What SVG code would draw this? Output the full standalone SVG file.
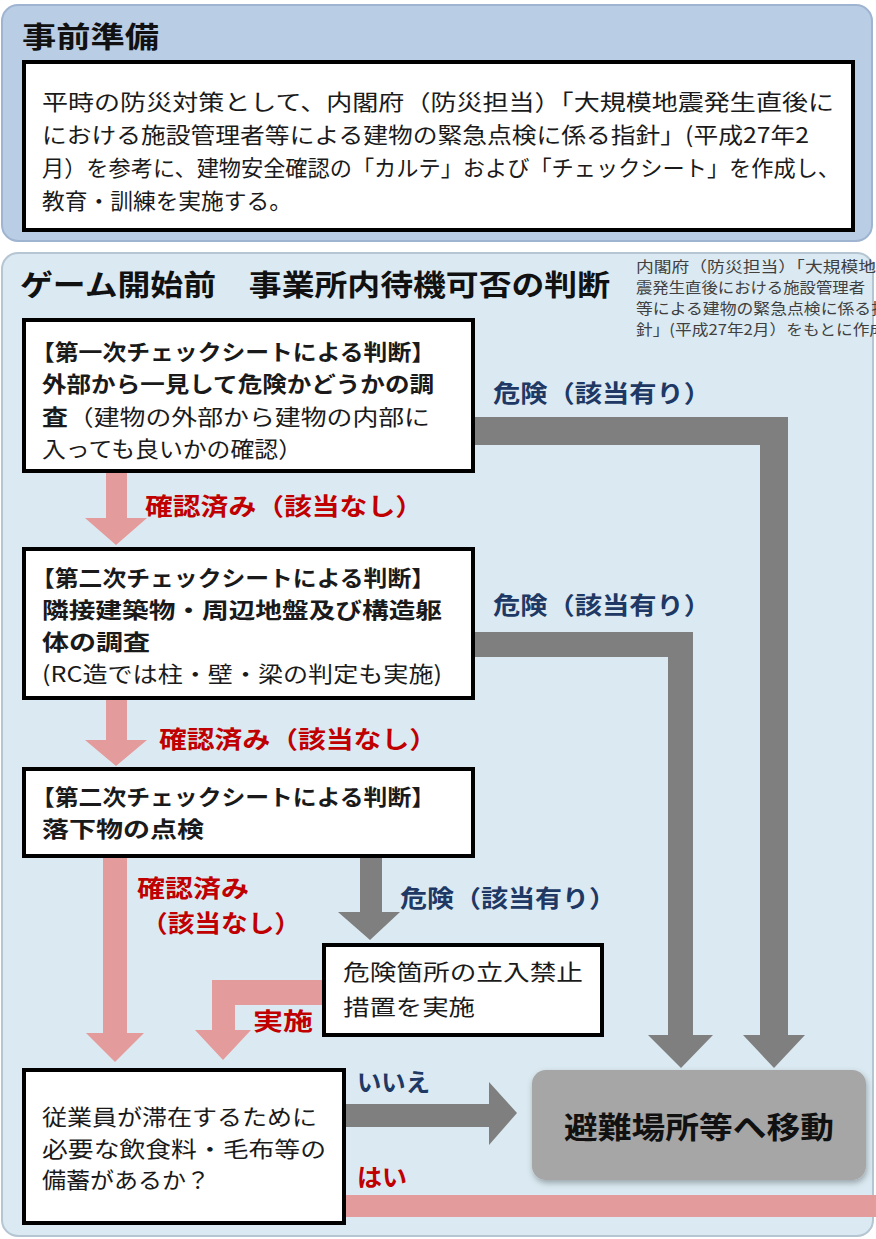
<svg xmlns="http://www.w3.org/2000/svg" width="876" height="1239" viewBox="0 0 876 1239">
<defs>
<style>
text { font-family: "Noto Sans CJK JP", "Noto Sans", sans-serif; }
.b { font-weight: bold; }
.box { fill: #ffffff; stroke: #000000; stroke-width: 4; }
.tx { fill: #1a1a1a; font-size: 22px; }
.gray { fill: #7f7f7f; }
.pink { fill: #e49b9b; }
.red { fill: #c00000; font-weight: bold; font-size: 24px; }
.blue { fill: #203864; font-weight: bold; font-size: 24px; }
.note { fill: #404040; font-size: 15px; }
</style>
<filter id="sh" x="-10%" y="-10%" width="120%" height="130%">
<feDropShadow dx="1" dy="3" stdDeviation="3" flood-color="#000" flood-opacity="0.3"/>
</filter>
</defs>
<rect width="876" height="1239" fill="#ffffff"/>

<g id="panel-top">
<rect x="2" y="5" width="870" height="236" rx="16" fill="#b9cde5" stroke="#9fb4d0" stroke-width="2"/>
<text x="22" y="48" class="b" font-size="29" fill="#111" textLength="137" lengthAdjust="spacingAndGlyphs">事前準備</text>
</g>
<g id="node-prep">
<rect x="24" y="62" width="829" height="168" class="box"/>
<text class="tx" font-size="24" x="42" y="110" textLength="792" lengthAdjust="spacingAndGlyphs">平時の防災対策として、内閣府（防災担当）「大規模地震発生直後に</text>
<text class="tx" font-size="24" x="42" y="143" textLength="767" lengthAdjust="spacingAndGlyphs">における施設管理者等による建物の緊急点検に係る指針」(平成27年2</text>
<text class="tx" font-size="24" x="42" y="176" textLength="798" lengthAdjust="spacingAndGlyphs">月）を参考に、建物安全確認の「カルテ」および「チェックシート」を作成し、</text>
<text class="tx" font-size="24" x="42" y="209" textLength="250" lengthAdjust="spacingAndGlyphs">教育・訓練を実施する。</text>
</g>

<g id="panel-bottom">
<rect x="2" y="253" width="871" height="983" rx="16" fill="#dbeaf2" stroke="#b5c6d2" stroke-width="2"/>
<text x="20" y="296" class="b" font-size="29" fill="#111" textLength="590" lengthAdjust="spacingAndGlyphs">ゲーム開始前　事業所内待機可否の判断</text>
<text class="note" x="636" y="272" textLength="240" lengthAdjust="spacingAndGlyphs">内閣府（防災担当）「大規模地</text>
<text class="note" x="636" y="293" textLength="229" lengthAdjust="spacingAndGlyphs">震発生直後における施設管理者</text>
<text class="note" x="636" y="314" textLength="252" lengthAdjust="spacingAndGlyphs">等による建物の緊急点検に係る指</text>
<text class="note" x="636" y="335" textLength="250" lengthAdjust="spacingAndGlyphs">針」(平成27年2月）をもとに作成</text>
</g>

<g id="connectors">
<polygon class="gray" points="473,417 788,417 788,1035 805,1035 774,1068 743,1035 760,1035 760,445 473,445"/>
<polygon class="gray" points="473,632 693,632 693,1035 713,1035 681,1068 648,1035 668,1035 668,657 473,657"/>
<polygon class="gray" points="360,856 382,856 382,912 400,912 370,940 338,912 360,912"/>
<polygon class="pink" points="106,473 127,473 127,518 147,518 116,545 85,518 106,518"/>
<polygon class="pink" points="106,700 127,700 127,740 147,740 116,766 85,740 106,740"/>
<polygon class="pink" points="103,858 127,858 127,1033 144,1033 115,1062 86,1033 103,1033"/>
<polygon class="pink" points="322,980 212,980 212,1030 195,1030 223,1060 251,1030 235,1030 235,1005 322,1005"/>
<polygon class="gray" points="346,1104 489,1104 489,1082 517,1113 489,1145 489,1127 346,1127"/>
<rect class="pink" x="346" y="1195" width="530" height="22"/>
<text class="blue" x="493" y="402" textLength="218" lengthAdjust="spacingAndGlyphs">危険（該当有り）</text>
<text class="blue" x="493" y="614" textLength="218" lengthAdjust="spacingAndGlyphs">危険（該当有り）</text>
<text class="blue" x="400" y="907" textLength="216" lengthAdjust="spacingAndGlyphs">危険（該当有り）</text>
<text class="red" x="145" y="515" textLength="278" lengthAdjust="spacingAndGlyphs">確認済み（該当なし）</text>
<text class="red" x="159" y="748" textLength="278" lengthAdjust="spacingAndGlyphs">確認済み（該当なし）</text>
<text class="red" x="137" y="897" textLength="112" lengthAdjust="spacingAndGlyphs">確認済み</text>
<text class="red" x="141" y="932" textLength="160" lengthAdjust="spacingAndGlyphs">（該当なし）</text>
<text class="red" x="253" y="1030" textLength="60" lengthAdjust="spacingAndGlyphs">実施</text>
<text class="blue" x="357" y="1091" textLength="73" lengthAdjust="spacingAndGlyphs">いいえ</text>
<text class="red" x="357" y="1186" textLength="50" lengthAdjust="spacingAndGlyphs">はい</text>
</g>

<g id="node-check1">
<rect x="24" y="320" width="449" height="151" class="box"/>
<text class="tx b" x="31" y="360" textLength="404" lengthAdjust="spacingAndGlyphs">【第一次チェックシートによる判断】</text>
<text class="tx b" x="42" y="392" textLength="392" lengthAdjust="spacingAndGlyphs">外部から一見して危険かどうかの調</text>
<text class="tx" x="42" y="425" textLength="388" lengthAdjust="spacingAndGlyphs"><tspan class="b">査</tspan>（建物の外部から建物の内部に</text>
<text class="tx" x="42" y="457" textLength="260" lengthAdjust="spacingAndGlyphs">入っても良いかの確認）</text>
</g>

<g id="node-check2">
<rect x="24" y="549" width="449" height="149" class="box"/>
<text class="tx b" x="31" y="586" textLength="404" lengthAdjust="spacingAndGlyphs">【第二次チェックシートによる判断】</text>
<text class="tx b" x="42" y="618" textLength="400" lengthAdjust="spacingAndGlyphs">隣接建築物・周辺地盤及び構造躯</text>
<text class="tx b" x="42" y="650" textLength="108" lengthAdjust="spacingAndGlyphs">体の調査</text>
<text class="tx" x="42" y="682" textLength="400" lengthAdjust="spacingAndGlyphs">(RC造では柱・壁・梁の判定も実施)</text>
</g>

<g id="node-check3">
<rect x="24" y="769" width="449" height="87" class="box"/>
<text class="tx b" x="31" y="805" textLength="404" lengthAdjust="spacingAndGlyphs">【第二次チェックシートによる判断】</text>
<text class="tx b" x="42" y="837" textLength="162" lengthAdjust="spacingAndGlyphs">落下物の点検</text>
</g>

<g id="node-restrict">
<rect x="324" y="945" width="278" height="90" class="box"/>
<text class="tx" x="343" y="980" textLength="240" lengthAdjust="spacingAndGlyphs">危険箇所の立入禁止</text>
<text class="tx" x="343" y="1015" textLength="132" lengthAdjust="spacingAndGlyphs">措置を実施</text>
</g>

<g id="node-stock">
<rect x="24" y="1070" width="320" height="153" class="box"/>
<text class="tx" x="42" y="1125" textLength="275" lengthAdjust="spacingAndGlyphs">従業員が滞在するために</text>
<text class="tx" x="42" y="1157" textLength="284" lengthAdjust="spacingAndGlyphs">必要な飲食料・毛布等の</text>
<text class="tx" x="42" y="1188" textLength="168" lengthAdjust="spacingAndGlyphs">備蓄があるか？</text>
</g>

<g id="node-evacuate">
<rect x="532" y="1070" width="334" height="110" rx="14" fill="#a6a6a6" filter="url(#sh)"/>
<text x="699" y="1138" class="b" font-size="30" fill="#111" text-anchor="middle" textLength="270" lengthAdjust="spacingAndGlyphs">避難場所等へ移動</text>
</g>
</svg>
